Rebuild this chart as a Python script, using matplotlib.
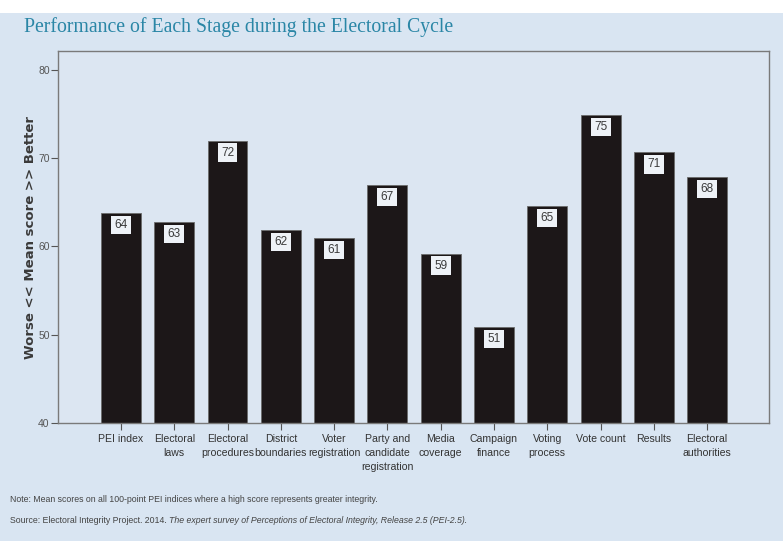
import matplotlib.pyplot as plt

# mean PEI scores for each stage of the electoral cycle
stages = ['PEI index', 'Electoral\nlaws', 'Electoral\nprocedures', 'District\nboundaries',
          'Voter\nregistration', 'Party and\ncandidate\nregistration', 'Media\ncoverage',
          'Campaign\nfinance', 'Voting\nprocess', 'Vote count', 'Results', 'Electoral\nauthorities']
scores = [63.8, 62.8, 72.0, 61.9, 61.0, 67.0, 59.2, 50.9, 64.6, 74.9, 70.7, 67.9]
yticks = [40, 50, 60, 70, 80]

bg = '#d9e5f2'
sans = ['Liberation Sans', 'DejaVu Sans']
fig = plt.figure(figsize=(7.83, 5.41), dpi=100, facecolor=bg)
# white strip along the very top
fig.patches.append(plt.Rectangle((0, 0.976), 1, 0.024, transform=fig.transFigure,
                                 facecolor='white', edgecolor='none', zorder=0))

ax = fig.add_axes([0.0741, 0.218, 0.908, 0.687])
ax.set_facecolor('#dce6f2')

x = range(len(stages))
bars = ax.bar(x, scores, width=0.75, bottom=0, color='#1c1718',
              edgecolor='#6b6b6b', linewidth=0.6, zorder=2)

for xi, v in zip(x, scores):
    ax.annotate(f'{v:.0f}', (xi, v), xytext=(0, -8.8), textcoords='offset points',
                ha='center', va='center', fontsize=8.5, family=sans, color='#3a3a3a', zorder=3,
                bbox=dict(boxstyle='square,pad=0.28', facecolor='#eef2f7', edgecolor='none'))

ax.set_ylim(40, 82.1)
ax.set_xlim(-1.18, 12.16)
ax.set_yticks(yticks)
ax.set_xticks(list(x))
ax.set_xticklabels(stages, fontsize=7.6, family=sans, color='#333333', linespacing=1.5)
ax.set_yticklabels([str(t) for t in yticks], family=sans)
ax.tick_params(axis='y', labelsize=7.5, colors='#555555', length=5, width=0.8, pad=1)
ax.tick_params(axis='x', length=5, width=0.8, color='#555555', pad=3)
for s in ax.spines.values():
    s.set_color('#7a7a7a')
    s.set_linewidth(1.0)

ax.set_ylabel('Worse << Mean score >> Better', fontsize=9.5, fontweight='bold',
              color='#3a3a3a', labelpad=1)

fig.text(0.031, 0.941, 'Performance of Each Stage during the Electoral Cycle',
         fontsize=14.2, family='Liberation Serif', color='#2a86a6', va='baseline')

fig.text(0.013, 0.072, 'Note: Mean scores on all 100-point PEI indices where a high score '
         'represents greater integrity.', fontsize=6.3, family=sans, color='#444444')
src = fig.text(0.013, 0.033, 'Source: Electoral Integrity Project. 2014. ',
               fontsize=6.3, family=sans, color='#444444')
fig.canvas.draw()
bb = src.get_window_extent()
fig.text(bb.x1 / fig.bbox.width, 0.033, 'The expert survey of Perceptions of Electoral '
         'Integrity, Release 2.5 (PEI-2.5).', fontsize=6.3, family=sans,
         style='italic', color='#444444')

fig.savefig('out.png', dpi=100, facecolor=bg)
